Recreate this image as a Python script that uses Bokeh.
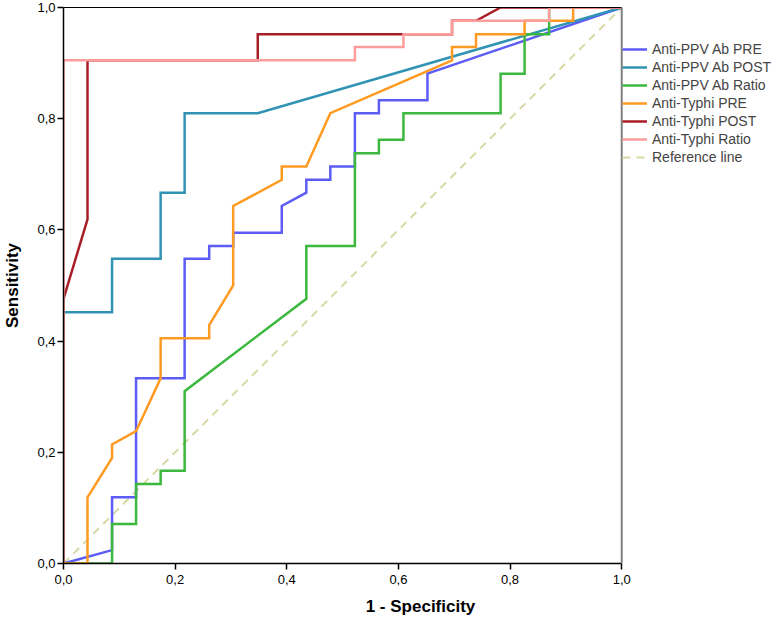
from bokeh.plotting import figure
from bokeh.models import Range1d, FixedTicker, Legend, LegendItem, Span, LinearAxis
from bokeh.embed import file_html
from bokeh.resources import INLINE

# ---- data ----
x_ticks = [0.0, 0.2, 0.4, 0.6, 0.8, 1.0]
tick_labels = ["0,0", "0,2", "0,4", "0,6", "0,8", "1,0"]

series_names = ["Anti-PPV Ab PRE", "Anti-PPV Ab POST", "Anti-PPV Ab Ratio",
                "Anti-Typhi PRE", "Anti-Typhi POST", "Anti-Typhi Ratio"]

ppv_pre_x = [0, 0.087, 0.087, 0.130, 0.130, 0.217, 0.217, 0.261, 0.261, 0.304, 0.304, 0.391,
             0.391, 0.435, 0.435, 0.478, 0.478, 0.522, 0.522, 0.565, 0.565, 0.652, 0.652, 1]
ppv_pre_y = [0, 0.024, 0.119, 0.119, 0.333, 0.333, 0.548, 0.548, 0.571, 0.571, 0.595, 0.595,
             0.643, 0.667, 0.690, 0.690, 0.714, 0.714, 0.810, 0.810, 0.833, 0.833, 0.881, 1]

ppv_post_x = [0, 0, 0.087, 0.087, 0.174, 0.174, 0.217, 0.217, 0.348, 1]
ppv_post_y = [0, 0.452, 0.452, 0.548, 0.548, 0.667, 0.667, 0.810, 0.810, 1]

ppv_ratio_x = [0, 0.087, 0.087, 0.130, 0.130, 0.174, 0.174, 0.217, 0.217, 0.435, 0.435, 0.522,
               0.522, 0.565, 0.565, 0.609, 0.609, 0.783, 0.783, 0.826, 0.826, 0.870, 0.870, 1]
ppv_ratio_y = [0, 0, 0.071, 0.071, 0.143, 0.143, 0.167, 0.167, 0.310, 0.476, 0.571, 0.571,
               0.738, 0.738, 0.762, 0.762, 0.810, 0.810, 0.881, 0.881, 0.952, 0.952, 1, 1]

typhi_pre_x = [0, 0.043, 0.043, 0.087, 0.087, 0.130, 0.174, 0.174, 0.261, 0.261, 0.304, 0.304,
               0.391, 0.391, 0.435, 0.478, 0.696, 0.696, 0.739, 0.739, 0.826, 0.826, 0.913, 0.913, 1]
typhi_pre_y = [0, 0, 0.119, 0.190, 0.214, 0.238, 0.333, 0.405, 0.405, 0.429, 0.500, 0.643,
               0.690, 0.714, 0.714, 0.810, 0.905, 0.929, 0.929, 0.952, 0.952, 0.976, 0.976, 1, 1]

typhi_post_x = [0, 0, 0.043, 0.043, 0.348, 0.348, 0.696, 0.696, 0.739, 0.783, 1]
typhi_post_y = [0, 0.476, 0.619, 0.905, 0.905, 0.952, 0.952, 0.976, 0.976, 1, 1]

typhi_ratio_x = [0, 0, 0.522, 0.522, 0.609, 0.609, 0.696, 0.696, 0.870, 0.870, 1]
typhi_ratio_y = [0, 0.905, 0.905, 0.929, 0.929, 0.952, 0.952, 0.976, 0.976, 1, 1]

ref_x = [0, 1]
ref_y = [0, 1]

colors = ["#5C5CF7", "#3193B3", "#3CB83F", "#FF9B22", "#A81E26", "#FF9D9D"]
ref_color = "#D8D8A2"

FONT = "Liberation Sans"

# layout: the data square occupies 559 px of a 715 px wide frame; the rest holds the legend
FIG_W, BORDER_L = 777, 62
SQUARE_PX = 559
x_end = (FIG_W - BORDER_L) / SQUARE_PX

p = figure(width=FIG_W, height=622, output_backend="svg", toolbar_location=None,
           x_range=Range1d(0, x_end), y_range=Range1d(0, 1),
           min_border_left=BORDER_L, min_border_right=0, min_border_top=7, min_border_bottom=59)

p.xgrid.visible = False
p.ygrid.visible = False
p.outline_line_color = None
p.background_fill_color = "white"
p.border_fill_color = "white"

for ax in (p.xaxis[0], p.yaxis[0]):
    ax.ticker = FixedTicker(ticks=x_ticks)
    ax.bounds = (x_ticks[0], x_ticks[-1])
    ax.major_label_overrides = dict(zip(x_ticks, tick_labels))
    ax.minor_tick_line_color = None
    ax.major_tick_in = 0
    ax.major_tick_out = 6
    ax.major_tick_line_color = "black"
    ax.major_tick_line_width = 1.5
    ax.axis_line_color = "black"
    ax.axis_line_width = 1.5
    ax.major_label_text_font = FONT
    ax.major_label_text_font_size = "13px"
    ax.major_label_text_color = "black"
    ax.axis_label_text_font = FONT
    ax.axis_label_text_font_style = "bold"
    ax.axis_label_text_font_size = "17px"
    ax.axis_label_text_color = "black"

p.xaxis.axis_label = "1 - Specificity"
p.yaxis.axis_label = "Sensitivity"
p.xaxis.major_label_standoff = 5
p.xaxis.axis_label_standoff = 10
p.yaxis.major_label_standoff = 2
p.yaxis.axis_label_standoff = 12

# top border of the plotting square
top = LinearAxis(ticker=FixedTicker(ticks=[]), bounds=(x_ticks[0], x_ticks[-1]),
                 axis_line_color="black", axis_line_width=1,
                 major_tick_out=0, major_tick_in=0, minor_tick_out=0, minor_tick_in=0,
                 major_label_standoff=0, major_label_text_font_size="0px")
p.add_layout(top, "above")

# right border of the plotting square
right_border = Span(location=x_ticks[-1], dimension="height", line_color="#7F7F7F", line_width=2)
p.add_layout(right_border)

xs = [ppv_pre_x, ppv_post_x, ppv_ratio_x, typhi_pre_x, typhi_post_x, typhi_ratio_x]
ys = [ppv_pre_y, ppv_post_y, ppv_ratio_y, typhi_pre_y, typhi_post_y, typhi_ratio_y]

ref_r = p.line(ref_x, ref_y, line_color=ref_color, line_width=2, line_dash="8 6")

items = []
for name, x, y, c in zip(series_names, xs, ys, colors):
    r = p.line(x, y, line_color=c, line_width=2.5, line_join="miter")
    items.append(LegendItem(label=name, renderers=[r]))
items.append(LegendItem(label="Reference line", renderers=[ref_r]))

legend = Legend(items=items, location=(SQUARE_PX, 397), orientation="vertical",
                border_line_color=None, background_fill_alpha=0,
                label_text_font=FONT, label_text_font_size="14px",
                glyph_width=25, glyph_height=18, label_height=18,
                spacing=0, padding=4, margin=0, label_standoff=5)
p.add_layout(legend, "center")

open("out.html", "w").write(file_html(p, INLINE))
